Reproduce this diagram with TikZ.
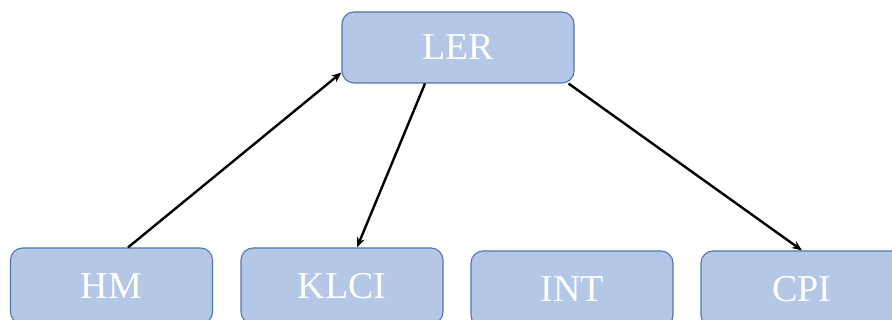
\documentclass[tikz,border=0pt]{standalone}
\usepackage{fontspec}
\setmainfont{Liberation Serif}
\usetikzlibrary{arrows.meta,calc}
\definecolor{boxfill}{HTML}{B4C7E7}
\definecolor{boxline}{HTML}{5275B0}
\begin{document}
\begin{tikzpicture}[x=1pt,y=1pt,
  box/.style={draw=boxline, line width=1.1pt, fill=boxfill, rounded corners=12pt,
    minimum width=202pt, minimum height=76pt, inner sep=0pt, text=white,
    font=\fontsize{38}{44}\selectfont},
  conn/.style={line width=2.4pt, -{Stealth[length=10pt,width=8pt]}}]
\useasboundingbox (0,0) rectangle (892,-320);
\begin{scope}
\clip (0,0) rectangle (892,-320);
\node[box, minimum width=232pt, minimum height=71pt] (LER) at (458,-47.5) {LER};
\node[box] (HM) at (111.5,-286) {HM};
\node[box] (KLCI) at (342,-286) {KLCI};
\node[box] (INT) at (572,-289) {INT};
\node[box] (CPI) at (802,-289) {CPI};
\draw[conn] ($(HM.north)+(16.5,0)$) -- ($(LER.south west)+(0,11)$);
\draw[conn] ($(LER.south)+(-33,0)$) -- ($(KLCI.north)+(15,0)$);
\draw[conn] ($(LER.south east)+(-6,0)$) -- (CPI.north);
\end{scope}
\end{tikzpicture}
\end{document}
